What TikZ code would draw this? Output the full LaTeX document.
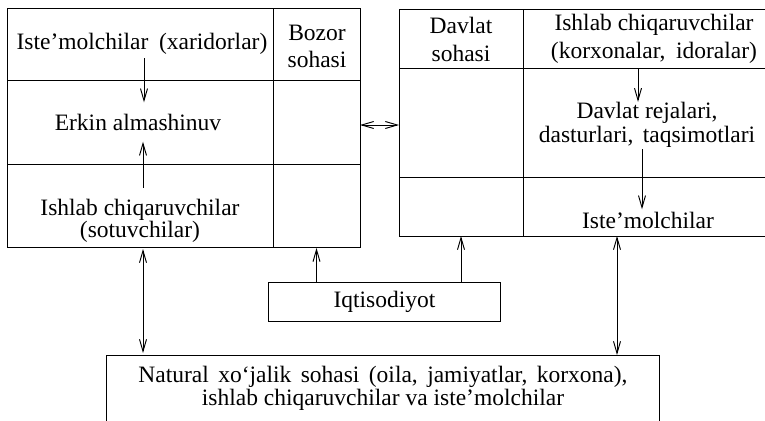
\documentclass[tikz,border=0pt]{standalone}
\usepackage{fontspec}
\setmainfont{Liberation Serif}
\usetikzlibrary{arrows.meta,calc}
\begin{document}
\begin{tikzpicture}[x=1pt,y=-1pt,
  line width=0.95pt,
  cell/.style={draw, anchor=north west, inner sep=0pt, outer sep=0pt},
  txt/.style={font=\fontsize{23.5}{24}\selectfont, align=center, inner sep=2pt},
  box/.style={draw, anchor=north west, align=center, inner sep=0pt, font=\fontsize{23.5}{23}\selectfont},
  arr/.style={-{Straight Barb[length=12pt,width=7pt]}},
  dbl/.style={{Straight Barb[length=12pt,width=7pt]}-{Straight Barb[length=12pt,width=7pt]}},
]
\useasboundingbox (0,0) rectangle (765,420);
\clip (0,0) rectangle (765,420);

% left table (Bozor sohasi)
\node[cell, minimum width=266pt, minimum height=72pt] (L11) at (7,8) {};
\node[cell, minimum width=87pt,  minimum height=72pt] (L12) at (273,8) {};
\node[cell, minimum width=266pt, minimum height=84pt] (L21) at (7,80) {};
\node[cell, minimum width=87pt,  minimum height=84pt] (L22) at (273,80) {};
\node[cell, minimum width=266pt, minimum height=83pt] (L31) at (7,164) {};
\node[cell, minimum width=87pt,  minimum height=83pt] (L32) at (273,164) {};

% right table (Davlat sohasi)
\node[cell, minimum width=124pt, minimum height=59pt]  (R11) at (399,9) {};
\node[cell, minimum width=262pt, minimum height=59pt]  (R12) at (523,9) {};
\node[cell, minimum width=124pt, minimum height=109pt] (R21) at (399,68) {};
\node[cell, minimum width=262pt, minimum height=109pt] (R22) at (523,68) {};
\node[cell, minimum width=124pt, minimum height=59pt]  (R31) at (399,177) {};
\node[cell, minimum width=262pt, minimum height=59pt]  (R32) at (523,177) {};

% texts
\node[txt] (ist) at (142,44) {Iste’molchilar\hspace{0.45em}(xaridorlar)};
\node[txt, font=\fontsize{23.5}{27}\selectfont] (boz) at (317,46) {Bozor\\sohasi};
\node[txt] (erk) at (138,122) {Erkin almashinuv};
\node[txt, font=\fontsize{23.5}{22}\selectfont] (ish) at (140,221) {Ishlab chiqaruvchilar\\(sotuvchilar)};
\node[txt, font=\fontsize{23.5}{28}\selectfont] (dso) at (461,39) {Davlat\\sohasi};
\node[txt, font=\fontsize{23.5}{28}\selectfont] (ikor) at (654,39) {Ishlab chiqaruvchilar\\(korxonalar,\hspace{0.45em}idoralar)};
\node[txt] (dav) at (647,125) {Davlat rejalari,\\dasturlari,\hspace{0.4em}taqsimotlari};
\node[txt] (iste) at (648,220) {Iste’molchilar};

% bottom boxes
\node[box, minimum width=232pt, minimum height=39pt] (iq) at (268,282) {Iqtisodiyot};
\node[box, minimum width=553pt, minimum height=66pt] (nat) at (106,355)
  {Natural\hspace{0.4em}xo‘jalik\hspace{0.4em}sohasi\hspace{0.4em}(oila,\hspace{0.4em}jamiyatlar,\hspace{0.4em}korxona),\\ishlab chiqaruvchilar va iste’molchilar};

% arrows
\draw[arr] ([xshift=2pt,yshift=-1pt]ist.south) -- ([xshift=6pt,yshift=9pt]erk.north);
\draw[arr] ([xshift=3pt,yshift=9pt]ish.north) -- ([xshift=5pt,yshift=-9pt]erk.south);
\draw[dbl] ([yshift=-3pt]L22.east) -- ([yshift=-3pt]L22.east -| R21.west);
\draw[arr] ([xshift=-16pt]R12.south) -- ([xshift=-9pt,yshift=-2pt]dav.north);
\draw[arr] ([xshift=-5pt,yshift=1pt]dav.south) -- ([xshift=-6pt]iste.north);
\draw[dbl, shorten <=2pt, shorten >=2pt] ([xshift=3pt]L31.south) -- ([xshift=3pt]L31.south |- nat.north);
\draw[arr, shorten >=1pt] (iq.north -| L32.south) -- (L32.south);
\draw[arr] (iq.north -| R31.south) -- (R31.south);
\draw[dbl] ([xshift=-37pt]R32.south) -- ([xshift=-37pt]R32.south |- nat.north);
\end{tikzpicture}
\end{document}
